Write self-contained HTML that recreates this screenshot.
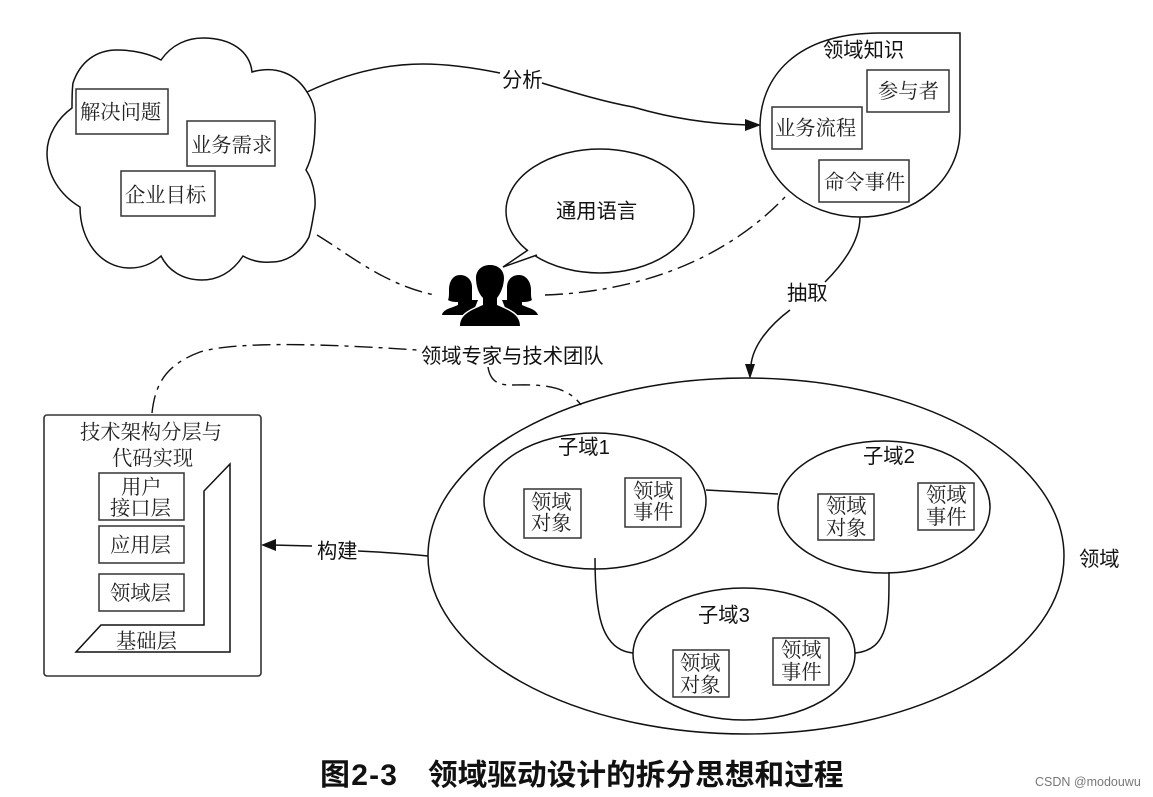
<!DOCTYPE html>
<html><head><meta charset="utf-8"><style>
html,body{margin:0;padding:0;background:#fff}
svg{display:block}
.s{font-family:"Liberation Serif","Noto Serif CJK SC",serif;font-size:20.3px;fill:#222}
.n{font-family:"Liberation Sans","Noto Sans CJK SC",sans-serif;font-size:20.3px;fill:#111}
.b{fill:#fff;stroke:#333;stroke-width:1.5}
.l{fill:none;stroke:#111;stroke-width:1.5}
.d{fill:none;stroke:#111;stroke-width:1.4;stroke-dasharray:18 6 4 6}
</style></head><body>
<svg width="1153" height="797" viewBox="0 0 1153 797" xmlns="http://www.w3.org/2000/svg">
<path class="l" d="M161 60C172 44 188 38 203 38C232 38 250 52 252 72C276 65 296 74 307 92C314 103 316 112 315 125C315 142 312 158 306 170C316 185 316 205 314 212C312 225 311 230 309 237C300 255 284 262 272 262C260 263 250 260 243 256C232 273 217 280 202 280C182 280 168 270 161 256C152 264 142 268 130 268C100 268 80 240 80 207C60 195 47 175 47 153C47 135 58 118 72 108C72 98 72 90 73 83C80 62 96 50 117 50C134 50 150 54 161 60Z"/>
<rect class="b" x="76" y="89" width="92" height="45"/><text class="s" x="80" y="119">解决问题</text>
<rect class="b" x="187" y="121" width="88" height="45"/><text class="s" x="191" y="152">业务需求</text>
<rect class="b" x="121" y="171" width="94" height="45"/><text class="s" x="125" y="202">企业目标</text>

<path class="l" d="M307 92C345 74 385 64 423 64C450 64 475 68 500 73"/>
<path class="l" d="M542 83C575 93 605 102 633 107C670 118 710 124 748 125"/>
<path d="M745 119L761 125L745 131Z" fill="#111"/>
<text class="n" x="502" y="87">分析</text>

<path class="l" d="M960 33V130C960 180 915 217 860 217C805 217 760 178 760 127C760 78 795 33 880 33Z"/>
<text class="n" x="823" y="57">领域知识</text>
<rect class="b" x="867" y="70" width="82" height="42"/><text class="s" x="878" y="98">参与者</text>
<rect class="b" x="772" y="107" width="90" height="42"/><text class="s" x="775" y="135">业务流程</text>
<rect class="b" x="819" y="160" width="90" height="42"/><text class="s" x="824" y="189">命令事件</text>

<ellipse class="l" cx="600" cy="211" rx="94" ry="62"/>
<path d="M528 250L537 256L520 258Z" fill="#fff"/>
<path class="l" d="M528 250L503 267L537 255"/>
<text class="n" x="556" y="218">通用语言</text>

<path class="d" d="M317 235C350 255 385 285 435 295"/>
<path class="d" d="M545 295C630 292 720 265 785 197"/>

<g fill="#000">
<path d="M460 275C452 275 449 283 449 290C449 295 449 298 448 300C451 302 455 302 458 302L458 305C452 308 443 309 442 315L472 315L478 300L472 300C472 295 472 290 472 287C472 281 468 275 460 275Z"/>
<path d="M519 275C527 275 531 283 531 290C531 295 531 298 532 300C529 302 525 302 522 302L522 305C528 308 536 309 538 315L508 315L502 300L507 300C507 295 507 290 507 287C507 281 511 275 519 275Z"/>
<path d="M460 326C460 314 472 310 483 305L483 298C478 293 476 285 476 278C476 270 482 265 490 265C498 265 504 270 504 278C504 285 501 293 497 298L497 305C508 310 520 314 520 326Z" stroke="#fff" stroke-width="3" paint-order="stroke"/>
</g>

<text class="n" x="421" y="363">领域专家与技术团队</text>
<path class="d" d="M152 413C155 385 165 365 200 352C240 340 340 345 418 350"/>
<path class="l" d="M860 217C860 240 845 262 825 282"/>
<path class="l" d="M790 310C770 325 753 345 751 365"/>
<path d="M745 364L750 379L755 364Z" fill="#111"/>
<text class="n" x="787" y="300">抽取</text>

<ellipse class="l" cx="746" cy="556" rx="318" ry="178"/>
<path class="d" d="M488 367C490 380 497 385 510 385C530 385 565 382 581 405"/>
<ellipse class="l" cx="595" cy="501" rx="111" ry="68"/>
<ellipse class="l" cx="884" cy="507" rx="106" ry="66"/>
<ellipse class="l" cx="744" cy="654" rx="111" ry="66"/>
<path class="l" d="M706 490L778 494"/>
<path class="l" d="M595 558C595 610 600 650 633 653"/>
<path class="l" d="M889 572C889 615 890 650 855 653"/>

<text class="n" x="558" y="454">子域1</text>
<text class="n" x="863" y="463">子域2</text>
<text class="n" x="698" y="622">子域3</text>
<text class="n" x="1079" y="566">领域</text>

<rect class="b" x="524" y="489" width="57" height="49"/><text class="s" x="531" y="509">领域</text><text class="s" x="531" y="530">对象</text>
<rect class="b" x="625" y="478" width="56" height="49"/><text class="s" x="633" y="498">领域</text><text class="s" x="633" y="519">事件</text>
<rect class="b" x="818" y="494" width="56" height="46"/><text class="s" x="826" y="513">领域</text><text class="s" x="826" y="535">对象</text>
<rect class="b" x="918" y="483" width="56" height="47"/><text class="s" x="926" y="502">领域</text><text class="s" x="926" y="524">事件</text>
<rect class="b" x="673" y="650" width="56" height="47"/><text class="s" x="680" y="670">领域</text><text class="s" x="680" y="692">对象</text>
<rect class="b" x="773" y="638" width="56" height="47"/><text class="s" x="781" y="657">领域</text><text class="s" x="781" y="679">事件</text>

<rect x="44" y="415" width="217" height="261" rx="3" fill="#fff" stroke="#333" stroke-width="1.6"/>
<text class="s" x="80" y="439">技术架构分层与</text>
<text class="s" x="112" y="465">代码实现</text>
<rect class="b" x="99" y="473" width="85" height="47"/><text class="s" x="121" y="494">用户</text><text class="s" x="110" y="515">接口层</text>
<rect class="b" x="99" y="526" width="85" height="37"/><text class="s" x="110" y="552">应用层</text>
<rect class="b" x="99" y="574" width="85" height="37"/><text class="s" x="110" y="600">领域层</text>
<path class="l" d="M230 464V652H76L101 625H204V491Z"/>
<text class="s" x="116" y="648">基础层</text>

<path class="l" d="M428 556C400 553 380 552 358 551"/>
<path class="l" d="M312 546L272 545"/>
<path d="M276 539L261 545L276 551Z" fill="#111"/>
<text class="n" x="317" y="558">构建</text>

<text x="320" y="785" font-weight="700" font-size="30" letter-spacing="1.2" fill="#111" style="font-family:'Liberation Sans','Noto Sans CJK SC',sans-serif">图2-3</text>
<text x="428" y="785" font-weight="700" font-size="29.7" fill="#111" style="font-family:'Liberation Sans','Noto Sans CJK SC',sans-serif">领域驱动设计的拆分思想和过程</text>
<text x="1035" y="786" font-size="12.5" fill="#777" style="font-family:'Liberation Sans',sans-serif">CSDN @modouwu</text>
</svg>
</body></html>
